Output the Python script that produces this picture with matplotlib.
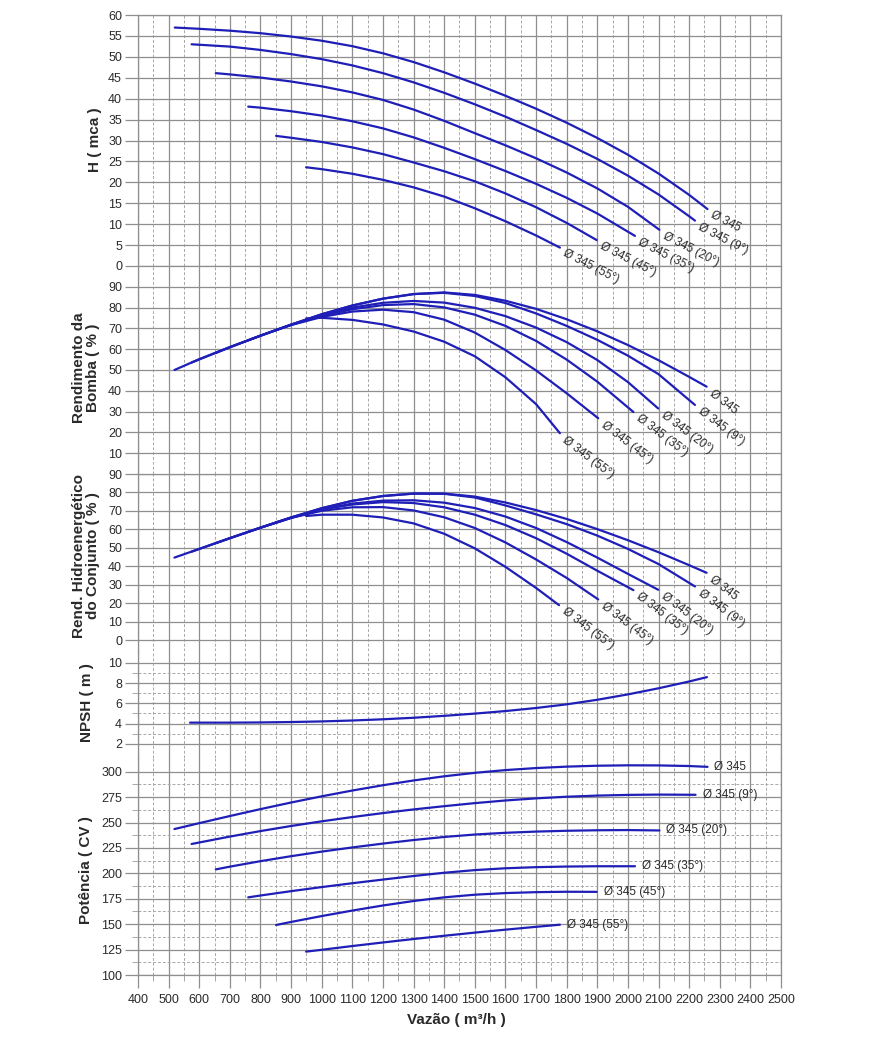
import matplotlib
matplotlib.use('Agg')
import matplotlib.pyplot as plt

plt.rcParams['font.family'] = ['Liberation Sans', 'DejaVu Sans']

# ---------------- labels ----------------
curve_labels = ['Ø 345', 'Ø 345 (9°)', 'Ø 345 (20°)', 'Ø 345 (35°)', 'Ø 345 (45°)', 'Ø 345 (55°)']
x_ticks = list(range(400, 2501, 100))

# ---------------- H (mca) ----------------
q_h_0 = [520, 600, 700, 800, 900, 1000, 1100, 1200, 1300, 1400, 1500, 1600, 1700, 1800, 1900, 2000, 2100, 2200, 2260]
h_0 = [57.0, 56.7, 56.25, 55.65, 54.85, 53.85, 52.55, 50.85, 48.75, 46.3, 43.6, 40.7, 37.6, 34.25, 30.6, 26.6, 22.1, 17.0, 13.6]
q_h_9 = [575, 700, 800, 900, 1000, 1100, 1200, 1300, 1400, 1500, 1600, 1700, 1800, 1900, 2000, 2100, 2200, 2219]
h_9 = [53.0, 52.45, 51.65, 50.65, 49.45, 47.95, 46.1, 43.9, 41.4, 38.65, 35.7, 32.5, 29.2, 25.6, 21.6, 17.1, 11.9, 10.85]
q_h_20 = [654, 700, 800, 900, 1000, 1100, 1200, 1300, 1400, 1500, 1600, 1700, 1800, 1900, 2000, 2103]
h_20 = [46.1, 45.8, 45.05, 44.1, 42.95, 41.5, 39.7, 37.4, 34.7, 31.75, 28.85, 25.75, 22.35, 18.55, 14.15, 8.65]
q_h_35 = [760, 800, 900, 1000, 1100, 1200, 1300, 1400, 1500, 1600, 1700, 1800, 1900, 2023]
h_35 = [38.1, 37.85, 37.0, 35.95, 34.6, 32.9, 30.75, 28.25, 25.55, 22.7, 19.65, 16.3, 12.55, 7.2]
q_h_45 = [851, 900, 1000, 1100, 1200, 1300, 1400, 1500, 1600, 1700, 1800, 1898]
h_45 = [31.1, 30.65, 29.65, 28.35, 26.75, 24.75, 22.65, 20.25, 17.35, 14.05, 10.3, 6.2]
q_h_55 = [949, 1000, 1100, 1200, 1300, 1400, 1500, 1600, 1700, 1778]
h_55 = [23.6, 23.15, 22.05, 20.6, 18.8, 16.6, 13.8, 10.7, 7.3, 4.4]

# ---------------- Rendimento da Bomba (%) ----------------
q_e_0 = [519, 600, 700, 800, 900, 1000, 1100, 1200, 1300, 1400, 1500, 1600, 1700, 1800, 1900, 2000, 2100, 2200, 2257]
e_0 = [50.0, 55.2, 61.0, 66.5, 71.8, 76.8, 81.0, 84.3, 86.5, 87.3, 86.1, 83.3, 79.4, 74.4, 68.6, 62.0, 54.7, 46.7, 42.0]
q_e_9 = [575, 700, 800, 900, 1000, 1100, 1200, 1300, 1400, 1500, 1600, 1700, 1800, 1900, 2000, 2100, 2219]
e_9 = [53.6, 61.0, 66.5, 71.8, 76.8, 81.0, 84.3, 86.5, 87.1, 85.6, 82.2, 77.2, 71.2, 64.5, 56.9, 48.0, 33.2]
q_e_20 = [654, 700, 800, 900, 1000, 1100, 1200, 1300, 1400, 1500, 1600, 1700, 1800, 1900, 2000, 2099]
e_20 = [58.2, 60.9, 66.5, 71.8, 76.4, 80.0, 82.3, 83.2, 82.4, 79.9, 75.9, 70.4, 63.4, 54.8, 44.2, 31.5]
q_e_35 = [760, 800, 900, 1000, 1100, 1200, 1300, 1400, 1500, 1600, 1700, 1800, 1900, 2018]
e_35 = [64.3, 66.5, 71.7, 76.0, 79.2, 81.2, 81.7, 80.1, 76.6, 71.2, 64.0, 55.0, 44.4, 29.8]
q_e_45 = [851, 900, 1000, 1100, 1200, 1300, 1400, 1500, 1600, 1700, 1800, 1903]
e_45 = [69.2, 71.6, 75.5, 78.1, 79.0, 77.8, 74.2, 68.0, 59.6, 49.8, 38.8, 26.8]
q_e_55 = [949, 1000, 1100, 1200, 1300, 1400, 1500, 1600, 1700, 1778]
e_55 = [74.8, 75.1, 74.1, 71.9, 68.5, 63.6, 56.6, 46.5, 33.6, 19.6]

# ---------------- Rend. Hidroenergético do Conjunto (%) ----------------
q_c_0 = [519, 600, 700, 800, 900, 1000, 1100, 1200, 1300, 1400, 1500, 1600, 1700, 1800, 1900, 2000, 2100, 2200, 2257]
c_0 = [44.8, 49.5, 55.3, 61.0, 66.5, 71.5, 75.5, 78.1, 79.4, 79.4, 77.8, 74.6, 70.5, 65.7, 60.2, 54.2, 47.7, 40.7, 36.6]
q_c_9 = [575, 700, 800, 900, 1000, 1100, 1200, 1300, 1400, 1500, 1600, 1700, 1800, 1900, 2000, 2100, 2219]
c_9 = [48.0, 55.3, 61.0, 66.5, 71.5, 75.5, 78.1, 79.4, 79.3, 77.3, 73.0, 68.2, 62.9, 56.7, 49.5, 41.3, 29.2]
q_c_20 = [654, 700, 800, 900, 1000, 1100, 1200, 1300, 1400, 1500, 1600, 1700, 1800, 1900, 2000, 2099]
c_20 = [52.6, 55.3, 60.9, 66.2, 70.8, 74.0, 75.6, 75.8, 74.5, 71.6, 67.0, 60.8, 53.2, 44.8, 36.0, 27.4]
q_c_35 = [760, 800, 900, 1000, 1100, 1200, 1300, 1400, 1500, 1600, 1700, 1800, 1900, 2018]
c_35 = [58.7, 61.0, 66.4, 70.8, 73.5, 74.8, 74.3, 72.0, 68.0, 62.4, 55.3, 46.9, 37.7, 27.2]
q_c_45 = [851, 900, 1000, 1100, 1200, 1300, 1400, 1500, 1600, 1700, 1800, 1903]
c_45 = [63.8, 66.3, 70.1, 72.0, 72.1, 70.3, 66.6, 60.8, 53.0, 43.8, 33.8, 22.2]
q_c_55 = [949, 1000, 1100, 1200, 1300, 1400, 1500, 1600, 1700, 1775]
c_55 = [67.3, 68.0, 68.0, 66.5, 63.3, 57.7, 49.8, 39.8, 28.4, 19.1]

# ---------------- NPSH (m) ----------------
q_npsh = [570, 700, 800, 900, 1000, 1100, 1200, 1300, 1400, 1500, 1600, 1700, 1800, 1900, 2000, 2100, 2200, 2258]
npsh = [4.1, 4.1, 4.12, 4.16, 4.22, 4.31, 4.43, 4.58, 4.77, 4.99, 5.24, 5.54, 5.9, 6.35, 6.88, 7.48, 8.15, 8.58]

# ---------------- Potência (CV) ----------------
q_p_0 = [519, 600, 700, 800, 900, 1000, 1100, 1200, 1300, 1400, 1500, 1600, 1700, 1800, 1900, 2000, 2100, 2200, 2260]
p_0 = [243.6, 249.4, 256.4, 263.2, 269.7, 275.8, 281.5, 286.7, 291.4, 295.5, 298.9, 301.6, 303.6, 305.0, 305.9, 306.3, 306.2, 305.6, 304.8]
q_p_9 = [575, 700, 800, 900, 1000, 1100, 1200, 1300, 1400, 1500, 1600, 1700, 1800, 1900, 2000, 2100, 2221]
p_9 = [228.9, 236.2, 241.6, 246.6, 251.2, 255.4, 259.3, 262.9, 266.1, 269.1, 271.7, 273.8, 275.4, 276.5, 277.2, 277.5, 277.3]
q_p_20 = [654, 700, 800, 900, 1000, 1100, 1200, 1300, 1400, 1500, 1600, 1700, 1800, 1900, 2000, 2103]
p_20 = [203.9, 206.6, 212.0, 216.9, 221.4, 225.5, 229.3, 232.8, 235.8, 238.2, 239.9, 241.1, 241.9, 242.4, 242.6, 242.2]
q_p_35 = [760, 800, 900, 1000, 1100, 1200, 1300, 1400, 1500, 1600, 1700, 1800, 1900, 2023]
p_35 = [176.4, 178.2, 182.5, 186.5, 190.3, 193.9, 197.4, 200.6, 203.2, 205.0, 206.1, 206.7, 207.0, 207.0]
q_p_45 = [851, 900, 1000, 1100, 1200, 1300, 1400, 1500, 1600, 1700, 1800, 1898]
p_45 = [149.2, 152.2, 158.0, 163.4, 168.4, 172.8, 176.4, 179.0, 180.6, 181.5, 181.9, 181.8]
q_p_55 = [949, 1000, 1100, 1200, 1300, 1400, 1500, 1600, 1700, 1778]
p_55 = [123.0, 124.8, 128.5, 132.0, 135.4, 138.6, 141.7, 144.6, 147.4, 149.5]

# ---------------- figure ----------------
W, H = 870, 1039
fig = plt.figure(figsize=(W / 100, H / 100), dpi=100)
fig.patch.set_facecolor('white')

CURVE = '#1f1fb8'
GRID = '#8f8f8f'
GRID2 = '#a8a8a8'
TXT = '#2a2a2a'
L, R = 138, 781


def make_ax(top, bottom):
    ax = fig.add_axes([L / W, 1 - bottom / H, (R - L) / W, (bottom - top) / H])
    ax.patch.set_alpha(0)
    return ax


def style(ax, ylim, yticks, yminor=None, bottom_ticks=False, spines=('left', 'right')):
    ax.set_xlim(400, 2500)
    ax.set_ylim(*ylim)
    ax.set_xticks(x_ticks)
    ax.set_xticks(list(range(450, 2500, 100)), minor=True)
    ax.set_yticks(yticks)
    if yminor is not None:
        ax.set_yticks(yminor, minor=True)
    else:
        ax.set_yticks([], minor=True)
    ax.grid(True, which='major', color=GRID, lw=0.9, ls='-')
    ax.grid(True, which='minor', color=GRID2, lw=0.7, ls=(0, (3, 2)))
    ax.set_axisbelow(True)
    for s in ['left', 'right', 'top', 'bottom']:
        ax.spines[s].set_visible(s in spines)
        ax.spines[s].set_color(GRID)
        ax.spines[s].set_linewidth(0.9)
    ax.tick_params(axis='y', which='major', direction='out', length=9.5, width=0.9,
                   color=GRID, labelsize=9, labelcolor=TXT, pad=2)
    ax.tick_params(axis='y', which='minor', direction='out', length=4, width=0.7, color=GRID2)
    ax.tick_params(axis='y', which='both', right=False)
    if bottom_ticks:
        ax.tick_params(axis='x', which='major', direction='out', length=9.5, width=0.9,
                       color=GRID, labelsize=9, labelcolor=TXT, pad=4)
        ax.tick_params(axis='x', which='minor', direction='out', length=4, width=0.7, color=GRID2)
    else:
        ax.tick_params(axis='x', which='both', bottom=False, labelbottom=False)


def draw(ax, qs, vs, rot, dx, dy, straight=False):
    for q, v, lab in zip(qs, vs, curve_labels):
        ax.plot(q, v, color=CURVE, lw=1.6, solid_capstyle='round',
                solid_joinstyle='round', zorder=3)
        if straight:
            ax.annotate(lab, xy=(q[-1], v[-1]), xytext=(dx, dy), textcoords='offset points',
                        ha='left', va='center', fontsize=8.5, color=TXT, zorder=5)
        else:
            ax.annotate(lab, xy=(q[-1], v[-1]), xytext=(dx, dy), textcoords='offset points',
                        rotation=rot, rotation_mode='anchor', ha='left', va='center',
                        fontsize=8.5, color=TXT, zorder=5)


# Panel 1: H
ax1 = make_ax(15, 266)
style(ax1, (0, 60), list(range(0, 61, 5)), spines=('left', 'right', 'top', 'bottom'))

# Panel 2: Rendimento da Bomba
ax2 = make_ax(266, 474)
style(ax2, (0, 100), list(range(10, 91, 10)), spines=('left', 'right', 'bottom'))

# Panel 3: Rend. Hidroenergético
ax3 = make_ax(474, 651)
style(ax3, (-5.7, 90), list(range(0, 91, 10)))

# Panel 4: NPSH
ax4 = make_ax(651, 758)
style(ax4, (0.62, 11.15), [2, 4, 6, 8, 10], yminor=[3, 5, 7, 9])

# Panel 5: Potência
ax5 = make_ax(758, 975)
style(ax5, (100, 313.5), list(range(100, 301, 25)),
      yminor=[112.5 + 25 * i for i in range(8)], bottom_ticks=True,
      spines=('left', 'right', 'bottom'))

# draw curves after all axes exist; raise curve axes above later ones
for a, z in zip([ax1, ax2, ax3, ax4, ax5], [5, 4, 3, 2, 1]):
    a.set_zorder(z)

draw(ax1, [q_h_0, q_h_9, q_h_20, q_h_35, q_h_45, q_h_55],
     [h_0, h_9, h_20, h_35, h_45, h_55], -27, 3, -4)
draw(ax2, [q_e_0, q_e_9, q_e_20, q_e_35, q_e_45, q_e_55],
     [e_0, e_9, e_20, e_35, e_45, e_55], -37, 3, -4)
draw(ax3, [q_c_0, q_c_9, q_c_20, q_c_35, q_c_45, q_c_55],
     [c_0, c_9, c_20, c_35, c_45, c_55], -37, 3, -4)
ax4.plot(q_npsh, npsh, color=CURVE, lw=1.6, solid_capstyle='round', zorder=3)
draw(ax5, [q_p_0, q_p_9, q_p_20, q_p_35, q_p_45, q_p_55],
     [p_0, p_9, p_20, p_35, p_45, p_55], 0, 5, 0, straight=True)

# axis titles
lab_kw = dict(rotation=90, ha='center', va='center', fontsize=11, fontweight='bold',
              color=TXT, multialignment='center', linespacing=1.05)
fig.text(95 / W, 1 - 140 / H, 'H ( mca )', **lab_kw)
fig.text(86 / W, 1 - 368 / H, 'Rendimento da\nBomba ( % )', **lab_kw)
fig.text(86 / W, 1 - 556 / H, 'Rend. Hidroenergético\ndo Conjunto ( % )', **lab_kw)
fig.text(87 / W, 1 - 703 / H, 'NPSH ( m )', **lab_kw)
fig.text(86 / W, 1 - 870 / H, 'Potência ( CV )', **lab_kw)
fig.text(456 / W, 1 - 1020 / H, 'Vazão ( m³/h )', ha='center', va='center',
         fontsize=11, fontweight='bold', color=TXT)

fig.savefig('out.png', dpi=100, facecolor='white')
